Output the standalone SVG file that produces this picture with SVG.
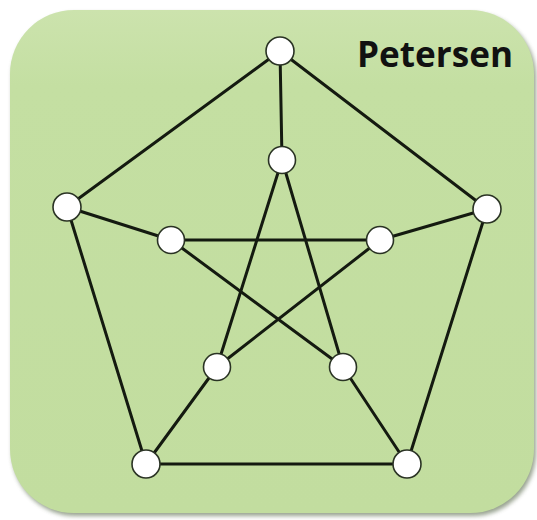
<svg xmlns="http://www.w3.org/2000/svg" width="537" height="520" viewBox="0 0 537 520">
<defs>
<linearGradient id="bg" x1="0" y1="0" x2="0" y2="1">
<stop offset="0" stop-color="#cce3ad"/>
<stop offset="0.15" stop-color="#c4dfa2"/>
<stop offset="1" stop-color="#c2dd9f"/>
</linearGradient>
<filter id="blur" x="-10%" y="-10%" width="120%" height="120%"><feGaussianBlur stdDeviation="2"/></filter>
</defs>
<style>
.edge{stroke:#141a10;stroke-width:3;stroke-linecap:round;fill:none}
.node{fill:#ffffff;stroke:#2a3324;stroke-width:1.6}
.title{font-family:"Open Sans","Liberation Sans",sans-serif;font-weight:bold;font-size:35px;fill:#111}
</style>
<rect x="12" y="13" width="524" height="503" rx="64" ry="64" fill="#7f8c74" filter="url(#blur)" opacity="0.8"/>
<rect x="10" y="10" width="524" height="503" rx="64" ry="64" fill="url(#bg)"/>
<text class="title" x="357" y="67" textLength="156" lengthAdjust="spacingAndGlyphs">Petersen</text>
<g id="edges">
<line class="edge" x1="280" y1="51" x2="487" y2="209"/>
<line class="edge" x1="487" y1="209" x2="407" y2="464"/>
<line class="edge" x1="407" y1="464" x2="146" y2="464"/>
<line class="edge" x1="146" y1="464" x2="67" y2="207"/>
<line class="edge" x1="67" y1="207" x2="280" y2="51"/>
<line class="edge" x1="280" y1="51" x2="282" y2="160"/>
<line class="edge" x1="487" y1="209" x2="380" y2="240"/>
<line class="edge" x1="407" y1="464" x2="343" y2="367"/>
<line class="edge" x1="146" y1="464" x2="217" y2="367"/>
<line class="edge" x1="67" y1="207" x2="171" y2="240"/>
<line class="edge" x1="282" y1="160" x2="343" y2="367"/>
<line class="edge" x1="282" y1="160" x2="217" y2="367"/>
<line class="edge" x1="171" y1="240" x2="380" y2="240"/>
<line class="edge" x1="171" y1="240" x2="343" y2="367"/>
<line class="edge" x1="380" y1="240" x2="217" y2="367"/>
</g>
<g id="o0"><circle class="node" cx="280" cy="51" r="14"/></g>
<g id="o1"><circle class="node" cx="487" cy="209" r="14"/></g>
<g id="o2"><circle class="node" cx="407" cy="464" r="14"/></g>
<g id="o3"><circle class="node" cx="146" cy="464" r="14"/></g>
<g id="o4"><circle class="node" cx="67" cy="207" r="14"/></g>
<g id="i0"><circle class="node" cx="282" cy="160" r="13.5"/></g>
<g id="i1"><circle class="node" cx="380" cy="240" r="13.5"/></g>
<g id="i2"><circle class="node" cx="343" cy="367" r="13.5"/></g>
<g id="i3"><circle class="node" cx="217" cy="367" r="13.5"/></g>
<g id="i4"><circle class="node" cx="171" cy="240" r="13.5"/></g>
</svg>
